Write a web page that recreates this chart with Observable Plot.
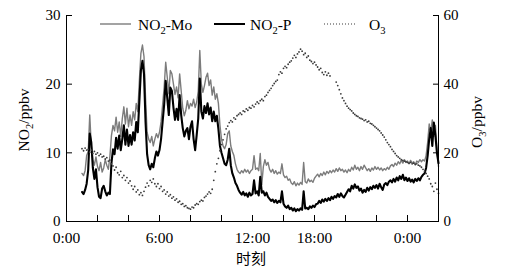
<!DOCTYPE html>
<html><head><meta charset="utf-8">
<script src="https://cdn.jsdelivr.net/npm/d3@7"></script>
<script src="https://cdn.jsdelivr.net/npm/@observablehq/plot@0.6"></script>
<style>
body{margin:0;background:#fff}
#chart{position:relative;width:519px;height:279px}
</style>
</head><body><div id="chart"></div>
<script>
// time of first sample and sampling step (axis hours)
const t0 = 1.0, dt = 0.1;

// NO2-Mo (ppbv)
const no2Mo = [
7.0,6.7,7.4,9.6,10.2,15.5,11.0,9.0,8.2,9.4,
8.0,7.4,8.6,7.2,7.8,9.0,8.2,7.6,9.5,12.5,
14.0,13.2,15.2,13.0,14.5,12.4,15.0,16.7,14.2,16.5,
13.8,15.5,14.0,16.0,14.8,17.2,16.0,20.5,24.5,25.7,
24.0,18.0,13.0,12.0,11.5,12.4,11.0,12.0,12.8,12.2,
13.0,14.5,17.0,19.5,23.2,21.0,18.6,22.0,21.5,20.0,
18.5,19.6,18.0,21.5,19.0,16.5,15.4,16.2,17.6,16.4,
17.2,16.8,17.8,16.6,17.4,19.0,24.9,20.0,18.8,19.8,
21.0,21.6,19.8,20.6,18.4,19.6,17.8,18.6,17.2,14.0,
12.0,11.0,10.6,11.2,12.8,13.2,11.0,10.2,9.6,8.4,
7.6,7.2,7.0,7.4,7.1,7.6,7.2,7.5,7.0,7.4,
7.6,9.6,7.6,7.8,7.4,9.9,5.4,8.0,9.0,8.2,
8.6,7.6,7.2,7.6,7.0,7.4,6.9,7.2,7.0,8.4,
6.8,6.4,6.6,6.0,6.2,5.6,5.4,5.8,5.2,5.6,
5.3,5.7,5.4,8.6,5.8,5.6,6.2,5.8,6.0,5.7,
6.3,6.6,6.9,6.5,7.0,6.7,7.2,6.8,7.3,7.0,
7.4,7.1,7.5,7.2,7.7,7.3,7.8,7.4,7.6,7.2,
7.5,7.1,7.6,7.3,7.9,7.5,8.2,7.6,7.9,7.4,
8.0,7.6,8.2,7.8,7.4,7.7,7.3,7.8,7.5,8.0,
7.6,7.9,7.5,7.8,7.4,7.7,7.5,7.9,7.6,8.1,
8.3,8.0,8.5,8.2,8.7,8.4,8.9,8.5,9.0,8.6,
8.8,8.4,8.9,8.5,8.7,8.3,8.8,8.6,9.0,8.7,
9.0,8.8,9.6,11.5,14.2,13.0,14.8,12.4,14.0,10.5,
8.0
];

// NO2-P (ppbv)
const no2P = [
4.3,4.0,4.6,5.5,7.5,12.8,11.5,7.8,6.2,7.6,
5.0,3.6,3.4,4.8,5.2,4.4,3.8,4.2,4.0,8.5,
10.5,9.8,12.2,10.6,12.5,10.4,12.0,14.0,11.2,13.4,
11.0,12.6,11.2,13.0,11.8,14.5,13.0,17.5,22.0,23.4,
21.5,14.5,9.8,8.2,7.6,8.4,7.9,9.2,10.2,9.6,
10.4,12.0,14.5,17.0,20.5,18.0,15.5,19.5,19.0,16.6,
14.8,16.4,14.8,18.4,15.5,13.6,12.4,13.2,13.6,12.0,
13.8,14.6,12.0,10.4,12.6,15.0,20.8,16.0,15.0,16.8,
15.8,17.2,15.6,16.6,14.6,16.0,14.6,15.4,13.5,11.0,
10.0,9.2,8.4,8.2,9.0,10.6,8.2,7.0,6.4,5.6,
5.2,4.6,4.2,3.9,4.3,3.8,4.1,3.6,4.2,3.8,
4.0,6.0,4.1,4.4,3.8,6.5,4.2,4.4,3.8,4.2,
3.6,3.3,3.0,3.2,2.8,3.1,2.7,3.0,2.8,4.4,
2.6,2.2,2.0,2.3,1.8,2.0,1.6,1.9,1.5,1.8,
1.6,1.9,1.7,4.4,1.9,2.0,1.8,2.2,2.0,2.3,
2.1,2.5,2.6,3.0,2.7,3.2,2.9,3.3,3.0,3.4,
3.1,3.6,3.3,3.7,3.5,4.0,3.6,4.1,3.7,3.5,
3.9,4.3,4.7,4.4,5.2,4.8,5.4,4.9,5.1,4.5,
4.8,4.2,4.6,4.3,4.9,4.5,5.0,4.7,5.2,4.9,
5.3,4.8,5.5,5.0,4.6,5.4,5.6,5.3,5.8,6.0,
5.7,6.2,5.8,6.4,6.0,6.6,6.2,6.8,6.0,6.4,
5.9,6.3,5.8,6.1,5.7,6.2,5.9,6.3,6.0,6.5,
6.8,7.0,7.8,9.6,12.0,13.6,11.0,14.4,12.5,10.0,
8.5
];

// O3 (ppbv), null = missing
const o3 = [
21.2,20.6,21.4,20.8,21.0,20.2,20.8,19.8,20.4,19.6,
20.0,19.2,19.6,18.8,19.0,18.2,18.6,17.6,17.9,16.8,
16.2,15.0,15.8,14.2,13.6,14.6,12.8,13.4,12.0,12.8,
11.2,11.8,10.4,9.4,10.2,8.6,9.2,7.8,8.4,7.6,
8.8,10.0,11.2,10.4,12.0,11.4,12.4,11.0,10.2,11.0,
9.6,10.2,8.8,9.2,8.0,8.6,7.4,7.8,6.8,7.2,
6.2,6.6,5.6,5.9,5.0,5.2,4.4,4.6,4.0,3.8,
3.6,4.2,4.0,4.8,5.2,5.0,5.8,6.2,6.0,7.0,
7.4,8.0,8.6,8.2,9.4,12.0,14.5,16.8,18.4,20.6,
22.4,23.8,25.4,27.0,27.8,28.8,29.4,29.0,30.2,29.8,
30.8,31.2,31.6,31.2,32.2,32.0,32.8,32.4,33.2,33.0,
33.8,33.4,34.2,34.8,34.4,35.2,35.6,35.2,36.4,36.8,
37.6,38.2,38.8,39.6,40.2,40.8,41.2,42.8,43.6,43.2,
44.6,45.2,44.8,45.8,46.4,46.8,47.6,48.4,47.8,48.8,
49.4,50.2,49.6,48.6,49.0,47.8,48.2,47.0,46.6,46.0,
46.4,45.6,45.0,44.2,44.6,43.4,42.8,43.6,42.6,43.2,
42.4,null,null,null,40.6,39.6,38.4,37.2,36.0,35.2,
34.4,33.6,33.0,32.6,32.2,31.6,31.2,30.8,30.6,30.2,
30.0,29.8,29.4,29.6,29.0,29.2,28.6,28.4,28.0,27.6,
27.2,26.8,26.4,25.8,25.2,24.6,23.8,23.0,22.4,21.8,
21.0,20.4,19.8,19.2,18.8,18.4,18.0,17.8,17.6,17.4,
17.2,17.0,17.2,16.8,17.0,16.6,16.8,16.4,16.2,15.8,
15.2,14.6,14.0,13.2,12.4,11.0,10.2,8.8,11.2,9.4,
8.2
];

// axes
const xTicks = [0,2,4,6,8,10,12,14,16,18,20,22,24];
const xLabelPos = [0,6,12,16,22];
const xLabelText = ["0:00","6:00","12:00","18:00","0:00"];
const yTicks = [0,10,20,30];
const y2Ticks = [0,20,40,60];
const y2Ratio = 2; // right axis (O3) = 2 x left axis

const rows = arr => arr.map((v,i)=>({t: +(t0 + i*dt).toFixed(2), v})).filter(d => d.v != null);
const moRows = rows(no2Mo), pRows = rows(no2P), o3Rows = rows(o3);

const serif = '"Liberation Serif","Times New Roman",serif';

const plot = Plot.plot({
  width: 519, height: 279,
  marginLeft: 66, marginRight: 81, marginTop: 15, marginBottom: 58,
  style: {fontFamily: serif, fontSize: "15px", color: "#000", background: "#fff", overflow: "visible"},
  x: {domain: [0, 24], label: null},
  y: {domain: [0, 30], label: null},
  marks: [
    Plot.line(moRows, {x: "t", y: "v", stroke: "#7c7c7c", strokeWidth: 1.4}),
    Plot.line(pRows, {x: "t", y: "v", stroke: "#000", strokeWidth: 2.1}),
    Plot.dot(o3Rows, {x: "t", y: d => d.v / y2Ratio, r: 0.9, fill: "#3a3a3a", stroke: null}),
    Plot.ruleX([0, 24], {stroke: "#000", strokeWidth: 1}),
    Plot.ruleY([0], {stroke: "#000", strokeWidth: 1}),
    Plot.axisX({ticks: xTicks, tickSize: -6, tickFormat: () => ""}),
    Plot.axisX({ticks: xLabelPos, tickSize: 0, tickPadding: 10, fontSize: 15.5, tickFormat: d => xLabelText[xLabelPos.indexOf(d)]}),
    Plot.axisY({ticks: yTicks, anchor: "left", tickSize: -6, tickFormat: () => ""}),
    Plot.axisY({ticks: yTicks, anchor: "left", tickSize: 0, tickPadding: 6}),
    Plot.axisY({ticks: y2Ticks.map(v => v / y2Ratio), anchor: "right", tickSize: -6, tickFormat: () => ""}),
    Plot.axisY({ticks: y2Ticks.map(v => v / y2Ratio), anchor: "right", tickSize: 0, tickPadding: 5, tickFormat: d => d * y2Ratio})
  ]
});
document.getElementById("chart").appendChild(plot);

const svg = d3.select(plot);

function subText(g, parts, anchor) {
  // parts: [text, sub, text]
  const t = g.append("text").attr("font-family", serif).attr("font-size", 15.5)
    .attr("fill", "#000").attr("text-anchor", anchor);
  t.append("tspan").text(parts[0]);
  t.append("tspan").attr("font-size", 10.5).attr("dy", 4).text(parts[1]);
  if (parts[2]) t.append("tspan").attr("dy", -4).text(parts[2]);
  return t;
}

// axis titles
subText(svg.append("g").attr("transform", "translate(29,120) rotate(-90)"), ["NO", "2", "/ppbv"], "middle");
subText(svg.append("g").attr("transform", "translate(482,122) rotate(-90)"), ["O", "3", "/ppbv"], "middle");
svg.append("text").attr("x", 251).attr("y", 264).attr("text-anchor", "middle")
  .attr("font-family", '"Noto Sans CJK SC",sans-serif').attr("font-size", 15).attr("fill", "#000").text("时刻");

// legend
const legend = [
  {label: ["NO", "2", "-Mo"], x: 100, stroke: "#7c7c7c", w: 1.4, dash: null, tx: 138},
  {label: ["NO", "2", "-P"], x: 214, stroke: "#000", w: 2, dash: null, tx: 250},
  {label: ["O", "3", ""], x: 324, stroke: "#3a3a3a", w: 1.2, dash: "1,2", tx: 369}
];
legend.forEach(l => {
  const g = svg.append("g");
  g.append("line").attr("x1", l.x).attr("x2", l.x + 31).attr("y1", 24).attr("y2", 24)
    .attr("stroke", l.stroke).attr("stroke-width", l.w).attr("stroke-dasharray", l.dash);
  subText(g, l.label, "start").attr("x", l.tx).attr("y", 29.5);
});
</script>
</body></html>
